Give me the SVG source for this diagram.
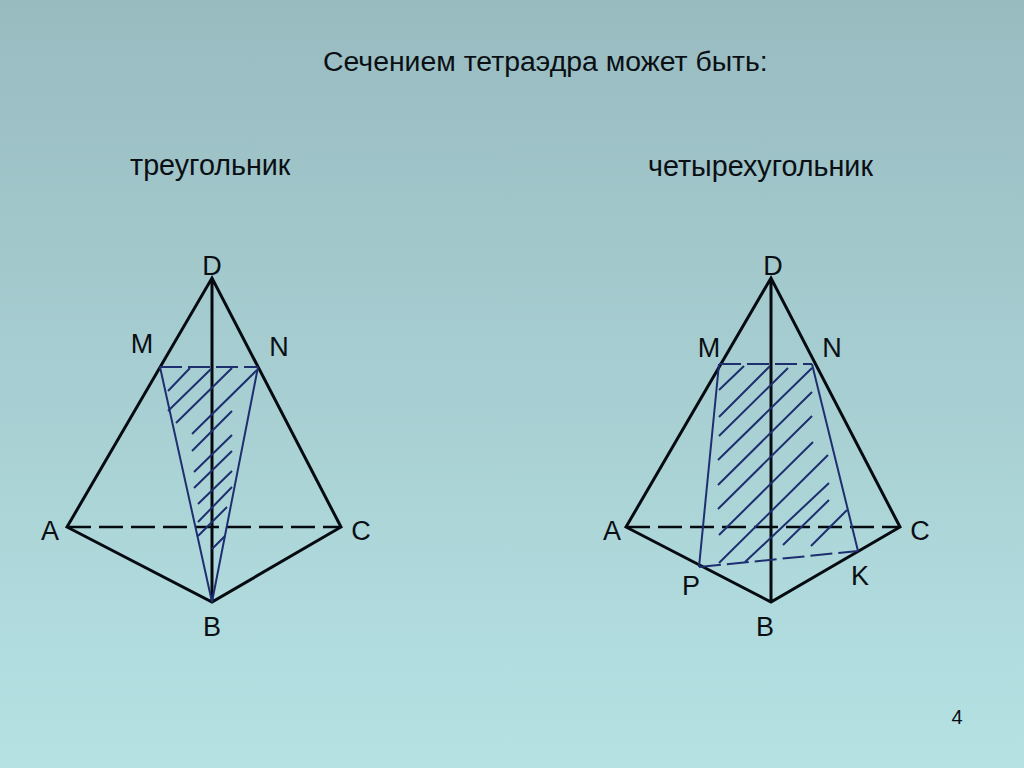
<svg xmlns="http://www.w3.org/2000/svg" width="1024" height="768" viewBox="0 0 1024 768">
<defs>
<linearGradient id="bg" x1="0" y1="0" x2="0" y2="1"><stop offset="0" stop-color="#98bbc0"/><stop offset="1" stop-color="#b6e2e4"/></linearGradient>
</defs>
<style>
text{font-family:"Liberation Sans",Arial,sans-serif;fill:#0a0f14;font-size:27px}
.ttl{font-size:28.4px}
.sub{font-size:28.7px}
.lab{text-anchor:middle}
.k{stroke:#050a10;stroke-width:3;fill:none;stroke-linejoin:miter}
.kd{stroke:#050a10;stroke-width:2.6;fill:none;stroke-dasharray:24 8}
.b{stroke:#1e2f70;stroke-width:2;fill:none}
.bd{stroke:#1e2f70;stroke-width:2;fill:none;stroke-dasharray:22 6}
.h{stroke:#1e2f70;stroke-width:2;fill:none}
</style>
<rect width="1024" height="768" fill="url(#bg)"/>
<g id="titles">
<text class="ttl" x="323" y="71">Сечением тетраэдра может быть:</text>
<text class="sub" x="130" y="175">треугольник</text>
<text class="sub" x="648" y="176">четырехугольник</text>
<text x="957" y="724" class="lab" style="font-size:20px">4</text>
</g>
<g id="connectors">
<g id="left-tetra">
<path class="k" d="M67 527L212 278L341 527L212 602ZM212 278V602"/>
<path class="kd" d="M67 527H341"/>
<path class="b" d="M160 367L212 602L258 367"/>
<path class="bd" d="M160 367H258"/>
<path class="h" d="M190 368L168 391M211 369L168 411M232 368L176 423M257 370L192 434M232 411L192 451M232 435L194 472M232 451L194 488M232 471L198 504M232 487L198 522M227 507L198 536M225 536L212 549"/>
</g>
<g id="right-tetra">
<path class="k" d="M626 527L771 278L900 527L771 602ZM771 278V602"/>
<path class="kd" d="M626 527H900"/>
<path class="b" d="M719 364L699 567M812 364L858 551"/>
<path class="bd" d="M719 364H812M699 567L858 551"/>
<path class="h" d="M744 366L719 390M770 366L719 417M788 368L719 436M812 368L718 460M812 392L718 485M812 416L718 509M813 442L719 535M828 455L719 563M829 483L745 562M829 500L783 545M847 510L811 546"/>
</g>
</g>
<g id="left-labels">
<text id="l-D" class="lab" x="212" y="275">D</text>
<text id="l-M" class="lab" x="142" y="353">M</text>
<text id="l-N" class="lab" x="279" y="356">N</text>
<text id="l-A" class="lab" x="50" y="540">A</text>
<text id="l-C" class="lab" x="361" y="540">C</text>
<text id="l-B" class="lab" x="212" y="636">B</text>
</g>
<g id="right-labels">
<text id="r-D" class="lab" x="773" y="275">D</text>
<text id="r-M" class="lab" x="709" y="357">M</text>
<text id="r-N" class="lab" x="832" y="357">N</text>
<text id="r-A" class="lab" x="612" y="540">A</text>
<text id="r-C" class="lab" x="920" y="540">C</text>
<text id="r-P" class="lab" x="691" y="595">P</text>
<text id="r-K" class="lab" x="860" y="585">K</text>
<text id="r-B" class="lab" x="765" y="636">B</text>
</g>
</svg>
